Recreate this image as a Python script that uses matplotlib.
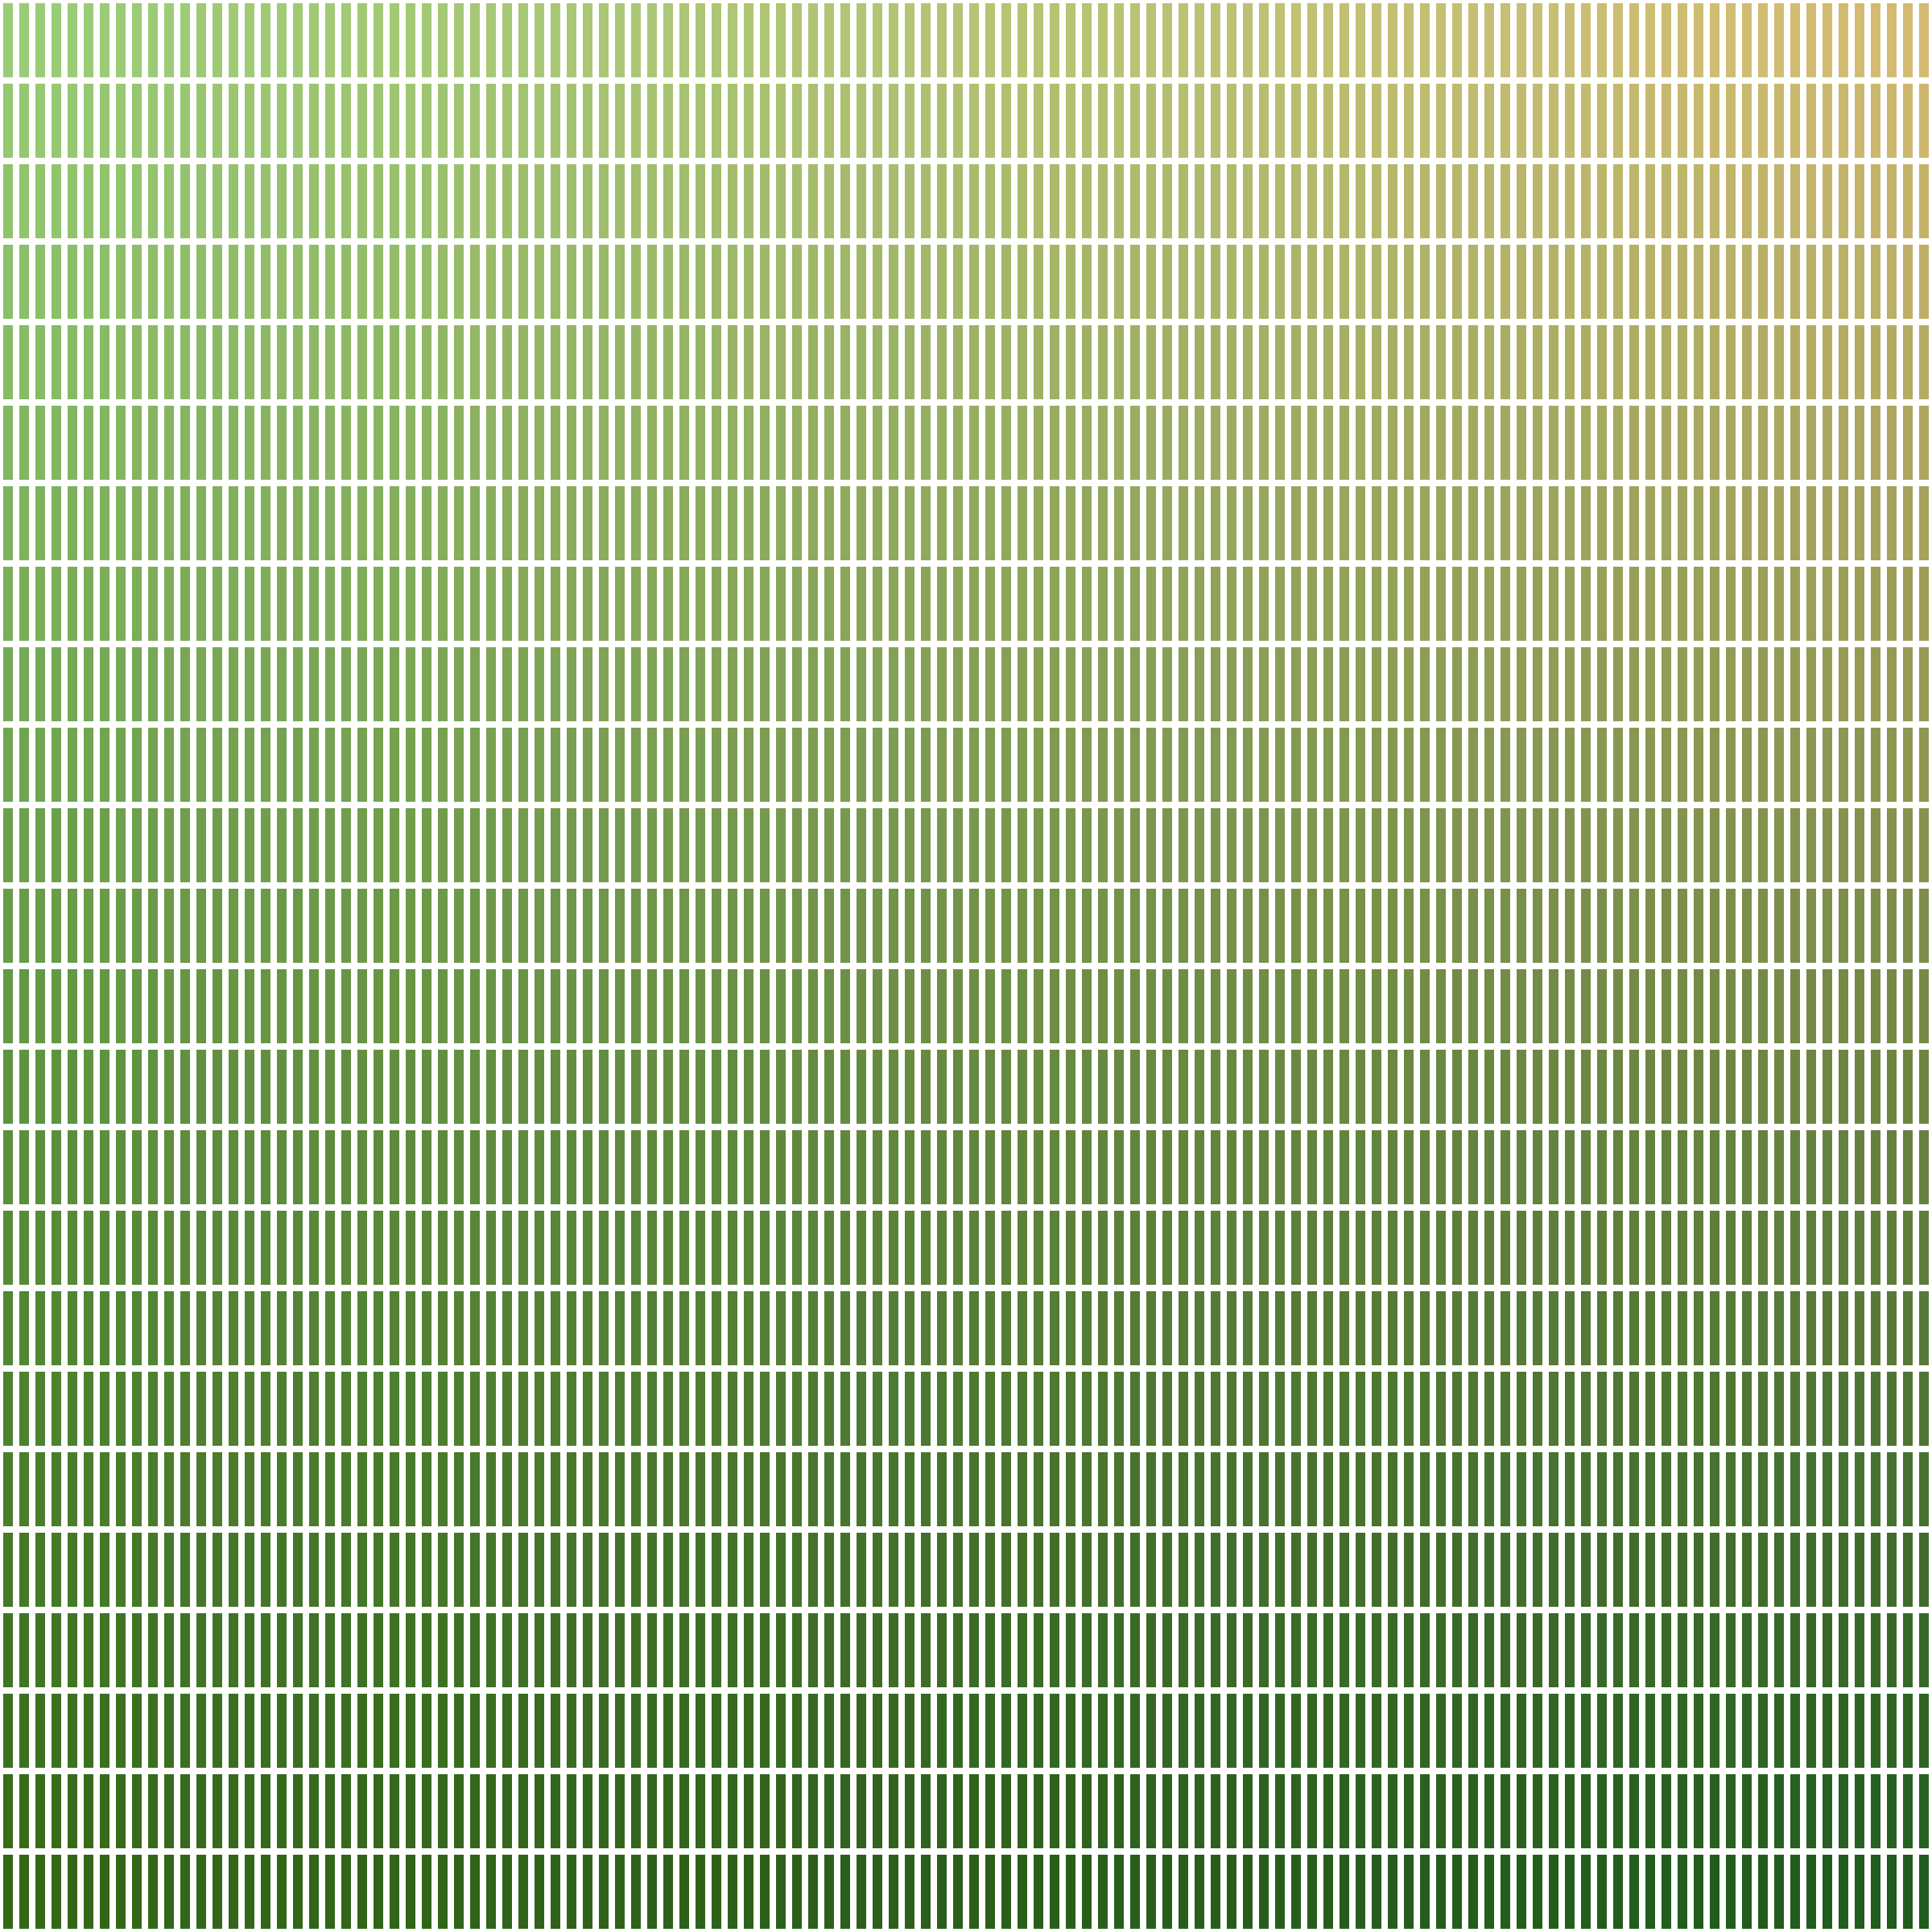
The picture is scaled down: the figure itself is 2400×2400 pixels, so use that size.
import numpy as np
import matplotlib.pyplot as plt
from matplotlib.colors import to_rgb

N_ROWS = 24
N_COLS = 120

rows = np.arange(N_ROWS)
cols = np.arange(N_COLS)

# colours, per row, at the left, middle and right columns
left_hex = ['#98cc76', '#94c871', '#8fc46d', '#8bbf69', '#87bb65', '#82b661',
            '#7eb25d', '#7aae59', '#75a955', '#71a551', '#6ca04c', '#689c48',
            '#649844', '#5f9340', '#5b8f3c', '#578b38', '#528633', '#4e822f',
            '#4a7e2b', '#457927', '#417523', '#3d711f', '#386c1b', '#346817']
mid_hex = ['#b5c474', '#afc070', '#a9bb6c', '#a3b768', '#9db264', '#97ae60',
           '#91a95d', '#8ba559', '#85a155', '#7f9c51', '#79984d', '#739349',
           '#6d8f45', '#668a41', '#60863d', '#5a8239', '#547d35', '#4e7931',
           '#48742e', '#42702a', '#3c6b26', '#366722', '#30621e', '#2a5e1a']
right_hex = ['#d5bb72', '#cdb76e', '#c5b36b', '#bdaf67', '#b5ab63', '#ada660',
             '#a6a25c', '#9e9e58', '#969a55', '#8e9651', '#86924d', '#7e8e4a',
             '#768946', '#6e8542', '#66813f', '#5f7d3b', '#577937', '#4f7534',
             '#477130', '#3f6c2c', '#376829', '#2f6425', '#276021', '#1f5c1e']
anchor_cols = [0, 60, 119]


def row_colours(r):
    anchors = np.array([to_rgb(left_hex[r]), to_rgb(mid_hex[r]), to_rgb(right_hex[r])])
    return np.stack([np.interp(cols, anchor_cols, anchors[:, k]) for k in range(3)], axis=1)


fig = plt.figure(figsize=(24, 24), dpi=100)
ax = fig.add_axes([0, 0, 1, 1])

for r in rows:
    ax.bar(cols + 0.5, 0.92, width=0.6, bottom=r + 0.04,
           color=row_colours(r), linewidth=0, antialiased=False)

ax.set_xlim(0, N_COLS)
ax.set_ylim(N_ROWS, 0)
ax.axis('off')

fig.savefig('out.png', dpi=100, facecolor='white')
